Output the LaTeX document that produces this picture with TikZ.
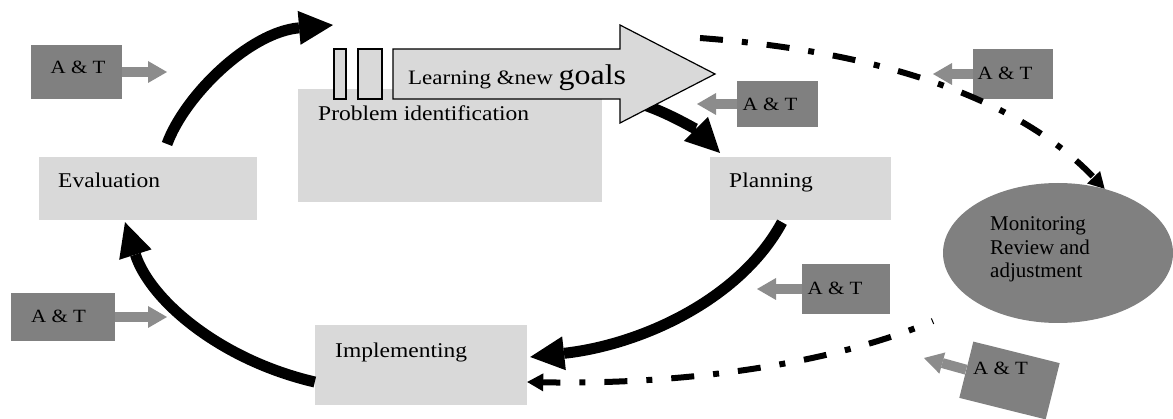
\documentclass[tikz,border=0pt]{standalone}
\usepackage{fontspec}
\setmainfont{Liberation Serif}
\newfontfamily\wfont{Liberation Serif}[FakeStretch=1.12]
\usetikzlibrary{arrows.meta,shapes.geometric}
\definecolor{lgray}{HTML}{D9D9D9}
\definecolor{dgray}{HTML}{808080}
\definecolor{agray}{HTML}{8C8C8C}
\begin{document}
\begin{tikzpicture}[x=1pt,y=1pt,
  lbox/.style={draw=none, fill=lgray, inner sep=0pt, rectangle},
  atbox/.style={draw=none, fill=dgray, inner sep=0pt, rectangle},
  attext/.style={font=\wfont\fontsize{18.7}{20}\selectfont, inner sep=0pt, anchor=base},
  boxtext/.style={font=\wfont\fontsize{21}{24}\selectfont, inner sep=0pt, anchor=base west},
  garrow/.style={draw=agray, line width=10pt, -{Triangle[length=19pt,width=22pt,line width=0pt]}},
  barrow/.style={draw=black, line width=11pt, -{Triangle[length=34pt,width=34pt,line width=0pt]}},
  darrow/.style={draw=black, line width=6pt, dash pattern=on 23pt off 19pt on 6pt off 19pt, -{Triangle[length=16pt,width=18pt,line width=0pt]}},
  smallrect/.style={draw=black, fill=lgray, line width=1.2pt, inner sep=0pt, rectangle, minimum height=50pt},
]
\useasboundingbox (0,0) rectangle (1173,-419);

% light boxes
\node[lbox, minimum width=218pt, minimum height=63pt] (eval) at (148,-188.5) {};
\node[lbox, minimum width=304pt, minimum height=113pt] (prob) at (450,-145.5) {};
\node[lbox, minimum width=181pt, minimum height=63pt] (plan) at (800.5,-188.5) {};
\node[lbox, minimum width=212pt, minimum height=80pt] (impl) at (421,-365) {};

\node[boxtext] (evalt) at (58,-188) {Evaluation};
\node[boxtext] (probt) at (318,-120.5) {Problem identification};
\node[boxtext] (plant) at (729,-188) {Planning};
\node[boxtext] (implt) at (335,-358) {Implementing};

% black arrow under the big arrow
\coordinate (b2s) at (638,-103);
\coordinate (b2e) at (720,-153);
\draw[barrow] (b2s) .. controls (668,-112) and (698,-131) .. (b2e);

% small rectangles and big arrow
\node[smallrect, minimum width=12pt] (r1) at (340,-74) {};
\node[smallrect, minimum width=24pt] (r2) at (370,-74) {};
\draw[fill=lgray, line width=1.2pt, line join=miter] (393,-49) -- (620,-49) -- (620,-25) -- (715,-74) -- (620,-123) -- (620,-99) -- (393,-99) -- cycle;
\node[font=\wfont\fontsize{20.5}{24}\selectfont, anchor=base west, inner sep=0pt] (learn) at (408,-85) {Learning \&new {\fontsize{28.5}{30}\selectfont goals}};

% black cycle arrows
\coordinate (b1s) at (167,-144);
\coordinate (b1e) at (333,-25);
\draw[barrow] (b1s) .. controls (185,-95) and (250,-32) .. (b1e);
\draw[barrow] ([xshift=-18.5pt,yshift=-2pt]plan.south) .. controls (740,-300) and (640,-345) .. ([xshift=3pt,yshift=8pt]impl.east);
\draw[barrow] ([yshift=-17pt]impl.west) .. controls (220,-360) and (150,-300) .. ([xshift=-23pt,yshift=-2pt]eval.south);

% ellipse
\node[ellipse, draw=none, fill=dgray, minimum width=230pt, minimum height=140pt, inner sep=0pt] (mon) at (1058,-253) {};
\node[font=\fontsize{21}{23.5}\selectfont, align=left, anchor=west, inner sep=0pt] (mont) at (990,-249.5) {Monitoring\\Review and\\adjustment};

% A & T boxes
\node[atbox, minimum width=91pt, minimum height=54pt] (at1) at (76.5,-72) {};
\node[attext] (at1t) at (78,-74) {A \& T};
\coordinate (g1) at (167,-72);
\draw[garrow] (at1.east) -- (g1);

\node[atbox, minimum width=104pt, minimum height=48pt] (at2) at (63,-317) {};
\node[attext] (at2t) at (58.5,-323) {A \& T};
\coordinate (g2) at (167,-317);
\draw[garrow] (at2.east) -- (g2);

\node[atbox, minimum width=81pt, minimum height=46pt] (at3) at (777.5,-104) {};
\node[attext] (at3t) at (770,-110.7) {A \& T};
\coordinate (g3) at (697,-104);
\draw[garrow] (at3.west) -- (g3);

\node[atbox, minimum width=80pt, minimum height=50pt] (at4) at (1013,-74) {};
\node[attext] (at4t) at (1005,-80) {A \& T};
\coordinate (g4) at (933,-74);
\draw[garrow] (at4.west) -- (g4);

\node[atbox, minimum width=88pt, minimum height=50pt] (at5) at (846,-289) {};
\node[attext] (at5t) at (835,-294.3) {A \& T};
\coordinate (g5) at (757,-289);
\draw[garrow] (at5.west) -- (g5);

\node[atbox, rotate=-14, minimum width=89pt, minimum height=58pt] (at6) at (1009.5,-380.5) {};
\node[attext] (at6t) at (1000.5,-375) {A \& T};
\coordinate (g6) at (924,-358);
\draw[garrow] (at6.west) -- (g6);

% dash-dot arrows
\coordinate (d1s) at (700,-38);
\draw[darrow] (d1s) .. controls (860,-50) and (1010,-90) .. (mon.54.5);
\coordinate (d2s) at (933,-321);
\draw[darrow, dash phase=22pt] (d2s) .. controls (830,-365) and (680,-385) .. ([yshift=-17pt]impl.east);
\end{tikzpicture}
\end{document}
